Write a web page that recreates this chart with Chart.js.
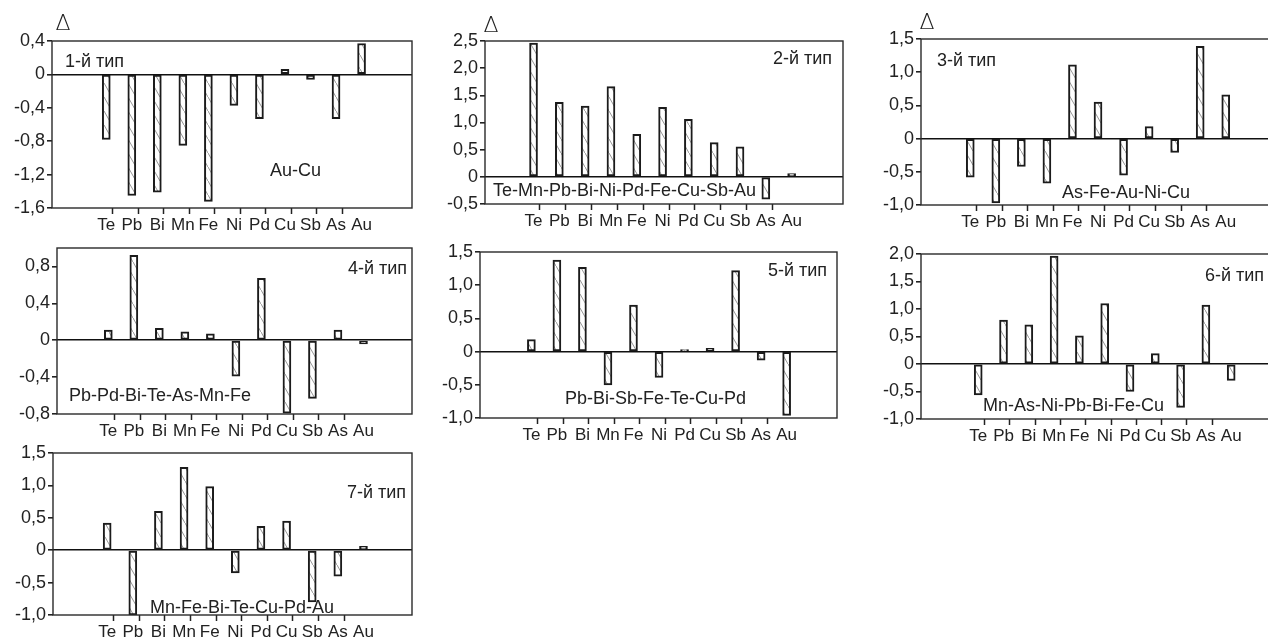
<!DOCTYPE html>
<html>
<head>
<meta charset="utf-8">
<script src="https://cdn.jsdelivr.net/npm/chart.js@4"></script>
<style>
    body { margin: 0; width: 1268px; height: 642px; overflow: hidden; background: #fff; position: relative;
           font-family: "Liberation Sans", Arial, sans-serif; color: #222; }
    canvas { position: absolute; }
    .t { position: absolute; font-size: 18px; line-height: 18px; white-space: nowrap; transform: translateY(-50%); }
    .d { position: absolute; font-family: "DejaVu Sans", sans-serif; font-weight: 200; font-size: 22px; line-height: 22px;
         transform: translate(-50%, -50%); }
</style>
</head>
<body>
<script>
var elements = ['Te', 'Pb', 'Bi', 'Mn', 'Fe', 'Ni', 'Pd', 'Cu', 'Sb', 'As', 'Au'];

var type1 = [-0.78, -1.45, -1.41, -0.85, -1.52, -0.37, -0.53, 0.06, -0.06, -0.53, 0.37];
var type2 = [2.46, 1.37, 1.30, 1.66, 0.78, 1.28, 1.06, 0.63, 0.55, -0.41, 0.06];
var type3 = [-0.58, -0.97, -0.42, -0.67, 1.11, 0.55, -0.55, 0.18, -0.21, 1.39, 0.66];
var type4 = [0.11, 0.92, 0.13, 0.09, 0.07, -0.39, 0.67, -0.79, -0.63, 0.11, -0.04];
var type5 = [0.18, 1.38, 1.27, -0.50, 0.70, -0.39, 0.03, 0.05, 1.22, -0.13, -0.96];
var type6 = [-0.56, 0.80, 0.71, 1.96, 0.51, 1.10, -0.50, 0.19, -0.79, 1.07, -0.30];
var type7 = [0.42, -1.00, 0.60, 1.28, 0.98, -0.35, 0.37, 0.45, -0.80, -0.40, 0.06];

var yTicks1 = [0.4, 0, -0.4, -0.8, -1.2, -1.6];
var yTicks2 = [2.5, 2.0, 1.5, 1.0, 0.5, 0, -0.5];
var yTicks3 = [1.5, 1.0, 0.5, 0, -0.5, -1.0];
var yTicks4 = [0.8, 0.4, 0, -0.4, -0.8];
var yTicks5 = [1.5, 1.0, 0.5, 0, -0.5, -1.0];
var yTicks6 = [2.0, 1.5, 1.0, 0.5, 0, -0.5, -1.0];
var yTicks7 = [1.5, 1.0, 0.5, 0, -0.5, -1.0];

var typeNames = ['1-й тип', '2-й тип', '3-й тип', '4-й тип', '5-й тип', '6-й тип', '7-й тип'];
var sequences = ['Au-Cu', 'Te-Mn-Pb-Bi-Ni-Pd-Fe-Cu-Sb-Au', 'As-Fe-Au-Ni-Cu', 'Pb-Pd-Bi-Te-As-Mn-Fe',
                 'Pb-Bi-Sb-Fe-Te-Cu-Pd', 'Mn-As-Ni-Pb-Bi-Fe-Cu', 'Mn-Fe-Bi-Te-Cu-Pd-Au'];

// frame of every panel on the page + where its texts sit
var panels = [
    { values: type1, ticks: yTicks1, yMin: -1.6, yMax: 0.4, xMin: -1.79, xMax: 11.64,
      left: 52, top: 41, right: 412, bottom: 208, tag: [65, 61, 'l'], seq: [270, 170], delta: [63, 23] },
    { values: type2, ticks: yTicks2, yMin: -0.5, yMax: 2.5, xMin: -1.55, xMax: 11.66,
      left: 485, top: 41, right: 843, bottom: 204, tag: [832, 58, 'r'], seq: [493, 190], delta: [491, 25] },
    { values: type3, ticks: yTicks3, yMin: -1.0, yMax: 1.5, xMin: -1.6, xMax: 11.56,
      left: 921, top: 39, right: 1274, bottom: 205, tag: [937, 60, 'l'], seq: [1062, 192], delta: [927, 22] },
    { values: type4, ticks: yTicks4, yMin: -0.8, yMax: 1.0, xMin: -1.68, xMax: 11.57,
      left: 57, top: 248, right: 412, bottom: 414, tag: [407, 268, 'r'], seq: [69, 395] },
    { values: type5, ticks: yTicks5, yMin: -1.0, yMax: 1.5, xMin: -1.68, xMax: 11.64,
      left: 480, top: 252, right: 837, bottom: 418, tag: [827, 270, 'r'], seq: [565, 398] },
    { values: type6, ticks: yTicks6, yMin: -1.0, yMax: 2.0, xMin: -1.93, xMax: 11.36,
      left: 921, top: 254, right: 1274, bottom: 419, tag: [1205, 275, 'l'], seq: [983, 405] },
    { values: type7, ticks: yTicks7, yMin: -1.0, yMax: 1.5, xMin: -1.78, xMax: 11.56,
      left: 53, top: 453, right: 412, bottom: 615, tag: [406, 492, 'r'], seq: [150, 607] }
];

var FONT = '"Liberation Sans", Arial, sans-serif';
var AXIS_W = 52, AXIS_H = 32, PAD_T = 14, PAD_R = 6;

// white fill with thin diagonal hatch
var pc = document.createElement('canvas');
pc.width = 8; pc.height = 14;
var g = pc.getContext('2d');
g.fillStyle = '#fff';
g.fillRect(0, 0, 8, 14);
g.strokeStyle = '#8a8a8a';
g.lineWidth = 0.9;
g.beginPath(); g.moveTo(-0.5, -0.9); g.lineTo(8.5, 14.9); g.stroke();
var hatch = g.createPattern(pc, 'repeat');

var framePlugin = {
    id: 'frame',
    afterDraw: function (chart) {
        var a = chart.chartArea, c = chart.ctx;
        c.save();
        c.strokeStyle = '#2a2a2a';
        c.lineWidth = 1.4;
        c.strokeRect(a.left, a.top, a.right - a.left, a.bottom - a.top);
        c.restore();
    }
};

function fmt(v) {
    return v === 0 ? '0' : v.toFixed(1).replace('.', ',');
}

function addText(cls, txt, x, y, align) {
    var d = document.createElement('div');
    d.className = cls;
    d.textContent = txt;
    d.style.top = y + 'px';
    if (align === 'r') d.style.right = (1268 - x) + 'px';
    else d.style.left = x + 'px';
    document.body.appendChild(d);
}

panels.forEach(function (p, k) {
    var x0 = p.left - AXIS_W, y0 = p.top - PAD_T;
    var w = p.right - x0 + PAD_R, h = p.bottom + AXIS_H - y0;
    var cv = document.createElement('canvas');
    cv.width = w; cv.height = h;
    cv.style.left = x0 + 'px'; cv.style.top = y0 + 'px';
    cv.style.width = w + 'px'; cv.style.height = h + 'px';
    document.body.appendChild(cv);

    new Chart(cv, {
        type: 'bar',
        data: {
            datasets: [{
                data: p.values.map(function (v, i) { return { x: i, y: v }; }),
                backgroundColor: hatch,
                borderColor: '#1b1b1b',
                borderWidth: 2,
                borderSkipped: false,
                barThickness: 8
            }]
        },
        options: {
            responsive: false,
            animation: false,
            devicePixelRatio: 1,
            layout: { padding: { top: PAD_T, right: PAD_R, left: 0, bottom: 0 } },
            plugins: { legend: { display: false }, tooltip: { enabled: false } },
            scales: {
                x: {
                    type: 'linear', min: p.xMin, max: p.xMax,
                    afterBuildTicks: function (s) {
                        var t = [];
                        for (var i = 0; i <= 20; i++) t.push({ value: i / 2 });
                        s.ticks = t;
                    },
                    afterFit: function (s) { s.height = AXIS_H; },
                    border: { display: false },
                    grid: {
                        drawOnChartArea: false, tickLength: 6, tickWidth: 1.5,
                        tickColor: function (c) { return c.tick && c.tick.value % 1 ? '#222' : 'rgba(0,0,0,0)'; }
                    },
                    ticks: {
                        autoSkip: false, maxRotation: 0, minRotation: 0, padding: 1, color: '#222',
                        font: { family: FONT, size: 17 },
                        callback: function (v) { return Number.isInteger(v) ? elements[v] : ''; }
                    }
                },
                y: {
                    min: p.yMin, max: p.yMax,
                    afterBuildTicks: function (s) {
                        s.ticks = p.ticks.map(function (v) { return { value: v }; });
                    },
                    afterFit: function (s) { s.width = AXIS_W; },
                    border: { display: false },
                    grid: {
                        tickLength: 5, lineWidth: 1.6, tickColor: '#222',
                        color: function (c) { return c.tick && c.tick.value === 0 ? '#111' : 'rgba(0,0,0,0)'; }
                    },
                    ticks: { padding: 2, color: '#222', font: { family: FONT, size: 18 }, callback: fmt }
                }
            }
        },
        plugins: [framePlugin]
    });

    addText('t', typeNames[k], p.tag[0], p.tag[1], p.tag[2]);
    addText('t', sequences[k], p.seq[0], p.seq[1], 'l');
    if (p.delta) addText('d', 'Δ', p.delta[0], p.delta[1], 'l');
});
</script>
</body>
</html>
